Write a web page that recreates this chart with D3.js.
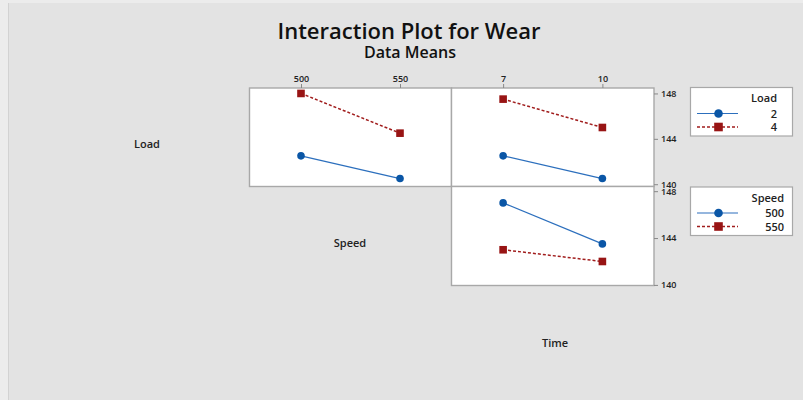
<!DOCTYPE html>
<html>
<head>
<meta charset="utf-8">
<script src="https://cdn.jsdelivr.net/npm/d3@7"></script>
<style>
  html, body { margin: 0; padding: 0; background: #ececec; }
  svg { display: block; font-family: "Open Sans", "Noto Sans", sans-serif; }
</style>
</head>
<body>
<svg id="chart" width="803" height="400"></svg>
<script>
// Factor levels
const loadLevels = ["2", "4"];
const speedLevels = ["500", "550"];
const timeLevels = ["7", "10"];

// Mean wear for each factor combination
const wearLoad2BySpeed = [142.5, 140.5];
const wearLoad4BySpeed = [148.0, 144.5];
const wearLoad2ByTime = [142.5, 140.5];
const wearLoad4ByTime = [147.5, 145.0];
const wearSpeed500ByTime = [147.0, 143.5];
const wearSpeed550ByTime = [143.0, 142.0];

const yTicks = [140, 144, 148];

const svg = d3.select("#chart");

// Page and chart background
svg.append("rect").attr("x", 8).attr("y", 3).attr("width", 795).attr("height", 397)
  .attr("fill", "#e3e3e3");
svg.append("line").attr("x1", 8.5).attr("x2", 8.5).attr("y1", 3).attr("y2", 400)
  .attr("stroke", "#d2d2d2");

// Titles
svg.append("text").attr("x", 409).attr("y", 39).attr("text-anchor", "middle")
  .attr("font-size", 22).attr("font-weight", 600).attr("fill", "#111").text("Interaction Plot for Wear");
svg.append("text").attr("x", 410).attr("y", 58).attr("text-anchor", "middle")
  .attr("font-size", 16).attr("font-weight", 600).attr("fill", "#111").text("Data Means");

const colA = [249.5, 451.5], colB = [451.5, 654];
const rowA = [88, 186.5], rowB = [186.5, 285.5];

const styles = [
  { color: "#0a56a6", line: "#2c6fbd", dash: null, shape: "circle" },
  { color: "#981414", line: "#a11d1d", dash: "3,2", shape: "square" }
];

function drawPanel(cols, rows, levels, series, yDomain, showTop) {
  const x = d3.scalePoint().domain(levels).range(cols).padding(0.52);
  const y = d3.scaleLinear().domain(yDomain).range([rows[1], rows[0]]);
  const g = svg.append("g");
  g.append("rect").attr("x", cols[0]).attr("y", rows[0])
    .attr("width", cols[1] - cols[0]).attr("height", rows[1] - rows[0])
    .attr("fill", "#fff").attr("stroke", "#a8a8a8").attr("stroke-width", 1.4);
  if (showTop) {
    const ax = g.append("g").attr("transform", `translate(0,${rows[0]})`)
      .call(d3.axisTop(x).tickSize(4).tickPadding(2));
    ax.select(".domain").remove();
    ax.selectAll(".tick line").attr("stroke", "#888");
    ax.selectAll("text").attr("font-size", 9).attr("font-weight", 600)
      .attr("fill", "#222").attr("font-family", "Open Sans, sans-serif");
  }
  series.forEach((vals, i) => {
    const st = styles[i];
    const pts = levels.map((lv, j) => [x(lv), y(vals[j])]);
    g.append("path").attr("d", d3.line()(pts)).attr("fill", "none")
      .attr("stroke", st.line).attr("stroke-width", st.dash ? 1.5 : 1.2)
      .attr("stroke-dasharray", st.dash);
    pts.forEach(p => {
      if (st.shape === "circle") {
        g.append("circle").attr("cx", p[0]).attr("cy", p[1]).attr("r", 3.8).attr("fill", st.color);
      } else {
        g.append("rect").attr("x", p[0] - 3.8).attr("y", p[1] - 3.8)
          .attr("width", 7.6).attr("height", 7.6).attr("fill", st.color);
      }
    });
  });
  return y;
}

function drawRightAxis(y) {
  const ax = svg.append("g").attr("transform", `translate(${colB[1]},0)`)
    .call(d3.axisRight(y).tickValues(yTicks).tickSize(4).tickPadding(3));
  ax.select(".domain").remove();
  ax.selectAll(".tick line").attr("stroke", "#888");
  ax.selectAll("text").attr("font-size", 9).attr("font-weight", 600)
    .attr("fill", "#222").attr("font-family", "Open Sans, sans-serif");
}

const yTop = drawPanel(colA, rowA, speedLevels, [wearLoad2BySpeed, wearLoad4BySpeed], [139.8, 148.48], true);
drawPanel(colB, rowA, timeLevels, [wearLoad2ByTime, wearLoad4ByTime], [139.8, 148.48], true);
const yBot = drawPanel(colB, rowB, timeLevels, [wearSpeed500ByTime, wearSpeed550ByTime], [139.95, 148.4], false);
drawRightAxis(yTop);
drawRightAxis(yBot);

// Factor names along the diagonal
[["Load", 147, 148], ["Speed", 350, 247], ["Time", 555, 347]].forEach(([t, cx, cy]) => {
  svg.append("text").attr("x", cx).attr("y", cy).attr("text-anchor", "middle")
    .attr("font-size", 11).attr("font-weight", 600).attr("fill", "#222").text(t);
});

// Legends
function drawLegend(top, title, levels, textX) {
  const g = svg.append("g");
  g.append("rect").attr("x", 690.5).attr("y", top).attr("width", 102).attr("height", 48.5)
    .attr("fill", "#fff").attr("stroke", "#a8a8a8").attr("stroke-width", 1.2);
  g.append("text").attr("x", textX).attr("y", top + 14.5).attr("text-anchor", "end")
    .attr("font-size", 11).attr("font-weight", 600).attr("fill", "#222").text(title);
  levels.forEach((lv, i) => {
    const st = styles[i];
    const yy = top + 26 + i * 13.5;
    g.append("line").attr("x1", 697).attr("x2", 738).attr("y1", yy).attr("y2", yy)
      .attr("stroke", st.line).attr("stroke-width", st.dash ? 1.3 : 1.2)
      .attr("stroke-dasharray", st.dash);
    if (st.shape === "circle") {
      g.append("circle").attr("cx", 718.5).attr("cy", yy).attr("r", 4.3).attr("fill", st.color);
    } else {
      g.append("rect").attr("x", 714.2).attr("y", yy - 4.3).attr("width", 8.6).attr("height", 8.6)
        .attr("fill", st.color);
    }
    g.append("text").attr("x", textX).attr("y", yy + 4).attr("text-anchor", "end")
      .attr("font-size", 11).attr("font-weight", 600).attr("fill", "#222").text(lv);
  });
}
drawLegend(87.5, "Load", loadLevels, 777);
drawLegend(187, "Speed", speedLevels, 784);
</script>
</body>
</html>
